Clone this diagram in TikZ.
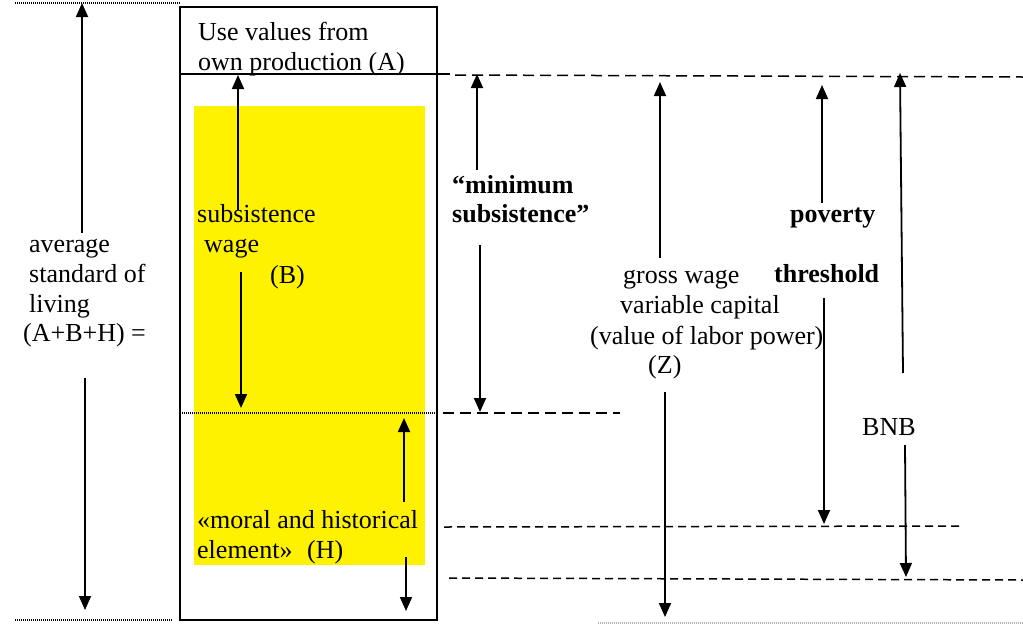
\documentclass[tikz,border=0pt]{standalone}
\usepackage{fontspec}
\setmainfont{Liberation Serif}
\usetikzlibrary{arrows.meta}
\begin{document}
\begin{tikzpicture}[x=1pt,y=-1pt,
  lbl/.style={anchor=base west,inner sep=0pt,font=\fontsize{26}{30}\selectfont},
  blbl/.style={lbl,font=\fontsize{26}{30}\selectfont\bfseries},
  arr/.style={line width=1.8pt,-{Triangle[length=14pt,width=12pt]}},
  dsh/.style={line width=1.5pt,dash pattern=on 11pt off 6pt},
  sdsh/.style={line width=1.5pt,dash pattern=on 8pt off 5pt},
  dot/.style={line width=1.1pt,dash pattern=on 1pt off 1pt}]
\useasboundingbox (0,0) rectangle (1023,625);

\fill[yellow] (194,106) rectangle (425,565);
\draw[line width=1.6pt] (180,7) rectangle (437,620);

\coordinate (tl1) at (15,3);
\coordinate (tl2) at (180,3);
\coordinate (bl1) at (15,620);
\coordinate (bl2) at (172,620);
\coordinate (br1) at (598,623);
\coordinate (br2) at (1023,623);
\coordinate (a1) at (180,74);
\coordinate (a2) at (450,74);
\coordinate (a3) at (455,75);
\coordinate (a4) at (1023,77);
\coordinate (m1) at (180,413);
\coordinate (m2) at (437,413);
\coordinate (m3) at (443,413);
\coordinate (m4) at (620,413);
\coordinate (p1) at (444,527);
\coordinate (p2) at (960,526);
\coordinate (g1) at (449,578);
\coordinate (g2) at (1023,580);

\draw[dot] (tl1) to (tl2);
\draw[dot] (bl1) to (bl2);
\draw[dot,gray!60] (br1) to (br2);
\draw[line width=1.4pt] (a1) to (a2);
\draw[dsh] (a3) to (a4);
\draw[dot] (m1) to (m2);
\draw[dsh] (m3) to (m4);
\draw[sdsh] (p1) to (p2);
\draw[sdsh] (g1) to (g2);

\node[lbl](ua) at (198,40) {Use values from};
\node[lbl](ub) at (198,70) {own production (A)};

\node[lbl](av1) at (29,252) {average};
\node[lbl](av2) at (29,282) {standard of};
\node[lbl](av3) at (29,312) {living};
\node[lbl](av4) at (23,341) {(A+B+H) =};

\node[lbl](sw1) at (197,222) {subsistence};
\node[lbl](sw2) at (204,252) {wage};
\node[lbl](sw3) at (270,283) {(B)};

\node[blbl](ms1) at (452,193) {``minimum};
\node[blbl](ms2) at (452,222) {subsistence''};

\node[blbl](pt1) at (790,222) {poverty};
\node[blbl](pt2) at (774,282) {threshold};

\node[lbl](gw1) at (623,283) {gross wage};
\node[lbl](gw2) at (620,313) {variable capital};
\node[lbl](gw3) at (590,344) {(value of labor power)};
\node[lbl](gw4) at (648,373) {(Z)};

\node[lbl](bnb) at (862,435) {BNB};

\node[lbl](mh1) at (197,528) {«moral and historical};
\node[lbl](mh2) at (197,558) {element»};
\node[lbl](mh3) at (307,558) {(H)};

\coordinate (av-u1) at (82,233);
\coordinate (av-u2) at (82,3);
\coordinate (av-d1) at (85,378);
\coordinate (av-d2) at (85,610);
\coordinate (sw-u1) at (238,210);
\coordinate (sw-u2) at (238,75);
\coordinate (sw-d1) at (241,272);
\coordinate (sw-d2) at (241,408);
\coordinate (mh-u1) at (404,502);
\coordinate (mh-u2) at (404,418);
\coordinate (mh-d1) at (406,557);
\coordinate (mh-d2) at (406,611);
\coordinate (ms-u1) at (477,170);
\coordinate (ms-u2) at (477,74);
\coordinate (ms-d1) at (480,245);
\coordinate (ms-d2) at (480,412);
\coordinate (gw-u1) at (660,258);
\coordinate (gw-u2) at (660,82);
\coordinate (gw-d1) at (665,392);
\coordinate (gw-d2) at (665,617);
\coordinate (pt-u1) at (822,203);
\coordinate (pt-u2) at (822,85);
\coordinate (pt-d1) at (824,298);
\coordinate (pt-d2) at (824,524);
\coordinate (bnb-u1) at (903,373);
\coordinate (bnb-u2) at (900,73);
\coordinate (bnb-d1) at (905,445);
\coordinate (bnb-d2) at (906,577);

\draw[arr] (av-u1) to (av-u2);
\draw[arr] (av-d1) to (av-d2);
\draw[arr] (sw-u1) to (sw-u2);
\draw[arr] (sw-d1) to (sw-d2);
\draw[arr] (mh-u1) to (mh-u2);
\draw[arr] (mh-d1) to (mh-d2);
\draw[arr] (ms-u1) to (ms-u2);
\draw[arr] (ms-d1) to (ms-d2);
\draw[arr] (gw-u1) to (gw-u2);
\draw[arr] (gw-d1) to (gw-d2);
\draw[arr] (pt-u1) to (pt-u2);
\draw[arr] (pt-d1) to (pt-d2);
\draw[arr] (bnb-u1) to (bnb-u2);
\draw[arr] (bnb-d1) to (bnb-d2);

\end{tikzpicture}
\end{document}
